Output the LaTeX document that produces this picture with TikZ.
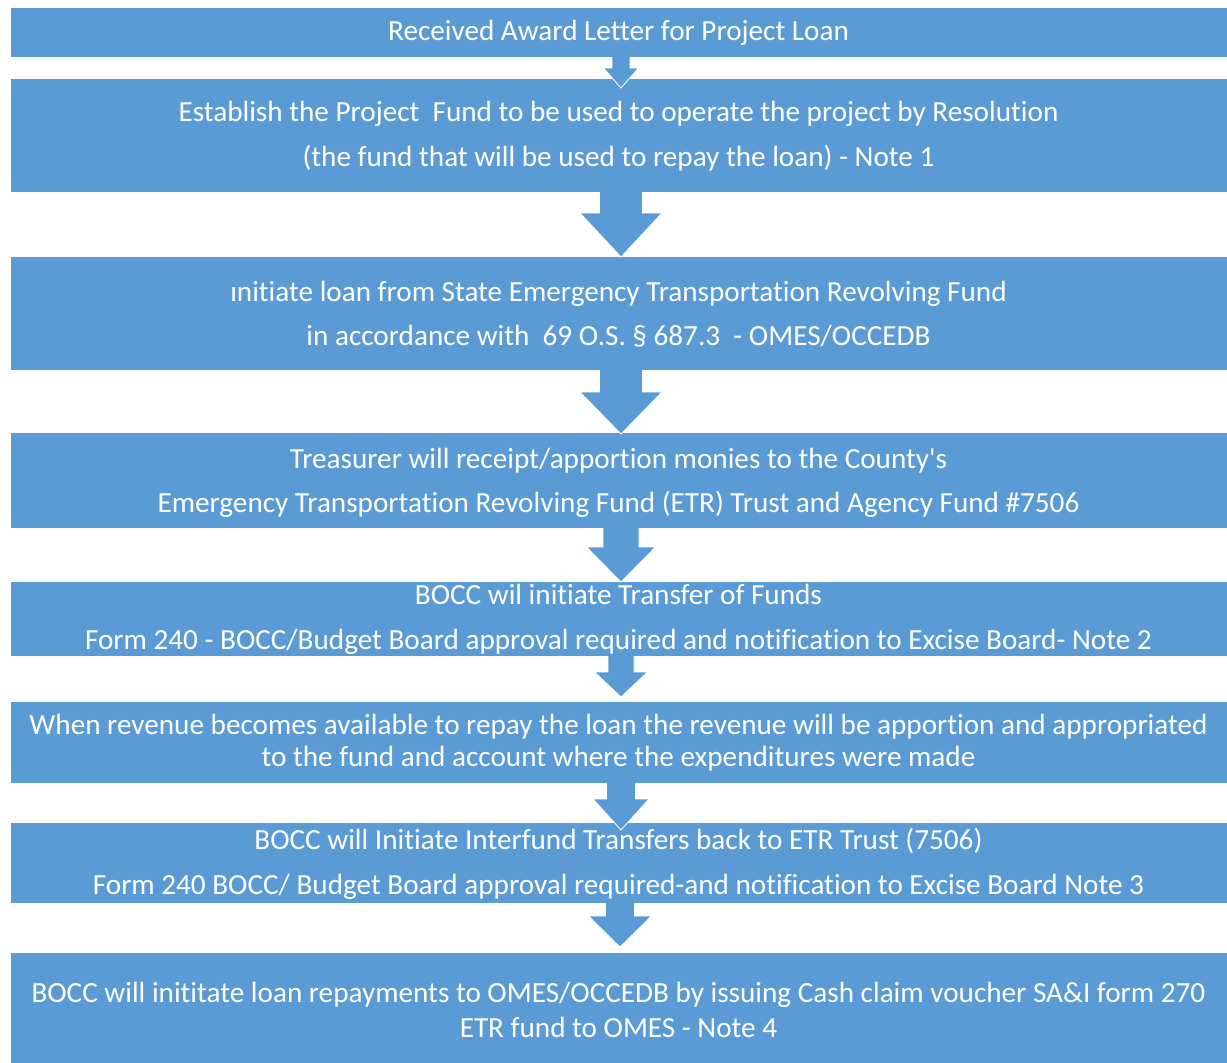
\documentclass[tikz,border=0pt]{standalone}
\usepackage{fontspec}
\setmainfont{Carlito}[Ligatures={TeXOff,NoCommon}]
\usetikzlibrary{calc}
\definecolor{boxblue}{HTML}{5B9BD5}
\tikzset{
  x=1pt, y=-1pt,
  flowbox/.style={fill=boxblue, draw=white, line width=0.6pt, inner sep=0pt, minimum width=1217pt},
  txt/.style={text=white, font=\fontsize{29.2}{34}\selectfont, inner sep=0pt, anchor=base},
  arrfill/.style={fill=boxblue},
  arredge/.style={draw=white, line width=0.8pt, line join=miter},
}
\newcommand{\blockarrow}[5]{%
  \fill[arrfill] ($(#1.south -| #2)+(-#3,-1)$) -- ($(#2)+(-#3,-#5)$) -- ($(#2)+(-#4,-#5)$) -- (#2) -- ($(#2)+(#4,-#5)$) -- ($(#2)+(#3,-#5)$) -- ($(#1.south -| #2)+(#3,-1)$) -- cycle;
  \draw[arredge] ($(#1.south -| #2)+(-#3,0)$) -- ($(#2)+(-#3,-#5)$) -- ($(#2)+(-#4,-#5)$) -- (#2) -- ($(#2)+(#4,-#5)$) -- ($(#2)+(#3,-#5)$) -- ($(#1.south -| #2)+(#3,0)$);
}
\begin{document}
\begin{tikzpicture}
\useasboundingbox[fill=white] (0,0) rectangle (1227,1063);
% boxes
\node[flowbox, minimum height=50pt]  (b1) at (618.5,32)   {};
\node[flowbox, minimum height=114pt] (b2) at (618.5,135)  {};
\node[flowbox, minimum height=114pt] (b3) at (618.5,313)  {};
\node[flowbox, minimum height=96pt]  (b4) at (618.5,480)  {};
\node[flowbox, minimum height=75pt]  (b5) at (618.5,618.5){};
\node[flowbox, minimum height=82pt]  (b6) at (618.5,742)  {};
\node[flowbox, minimum height=81pt]  (b7) at (618.5,862.5){};
\node[flowbox, minimum height=111pt] (b8) at (618.5,1007.5){};
% texts
\node[txt] (t1)  at (618.5,40)  {Received Award Letter for Project Loan};
\node[txt] (t2a) at (618.5,121) {Establish the Project\ \ Fund to be used to operate the project by Resolution};
\node[txt] (t2b) at (618.5,166) {(the fund that will be used to repay the loan) - Note 1};
\node[txt] (t3a) at (618.5,301) {ınitiate loan from State Emergency Transportation Revolving Fund};
\node[txt] (t3b) at (618.5,345) {in accordance with\ \ 69 O.S. § 687.3\ \ - OMES/OCCEDB};
\node[txt] (t4a) at (618.5,468) {Treasurer will receipt/apportion monies to the County's};
\node[txt] (t4b) at (618.5,512) {Emergency Transportation Revolving Fund (ETR) Trust and Agency Fund \#7506};
\node[txt] (t5a) at (618.5,604) {BOCC wil initiate Transfer of Funds};
\node[txt] (t5b) at (618.5,649) {Form 240 - BOCC/Budget Board approval required and notification to Excise Board- Note 2};
\node[txt] (t6a) at (618.5,734) {When revenue becomes available to repay the loan the revenue will be apportion and appropriated};
\node[txt] (t6b) at (618.5,766) {to the fund and account where the expenditures were made};
\node[txt] (t7a) at (618.5,849) {BOCC will Initiate Interfund Transfers back to ETR Trust (7506)};
\node[txt] (t7b) at (618.5,894) {Form 240 BOCC/ Budget Board approval required-and notification to Excise Board Note 3};
\node[txt] (t8a) at (618.5,1002) {BOCC will inititate loan repayments to OMES/OCCEDB by issuing Cash claim voucher SA\&I form 270};
\node[txt] (t8b) at (618.5,1037) {ETR fund to OMES - Note 4};
% arrow tips
\coordinate (p1) at (621,88);
\coordinate (p2) at (621,257);
\coordinate (p3) at (621,434);
\coordinate (p4) at (621,582);
\coordinate (p5) at (621,697);
\coordinate (p6) at (621,830);
\coordinate (p7) at (620,947);
\blockarrow{b1}{p1}{9}{17.5}{20}
\blockarrow{b2}{p2}{21.5}{41}{44}
\blockarrow{b3}{p3}{21.5}{41}{42}
\blockarrow{b4}{p4}{18}{34.5}{35}
\blockarrow{b5}{p5}{13}{26.5}{25}
\blockarrow{b6}{p6}{14.5}{28}{31}
\blockarrow{b7}{p7}{14.5}{31.5}{31}
\end{tikzpicture}
\end{document}
